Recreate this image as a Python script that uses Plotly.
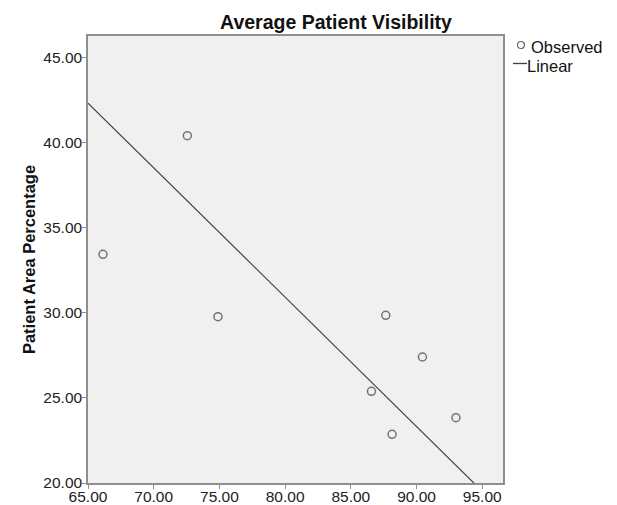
import plotly.graph_objects as go
import numpy as np

# Observed data
avg_visibility = [66.14, 72.56, 74.89, 87.66, 90.45, 86.57, 93.00, 88.14]
area_percentage = [33.45, 40.43, 29.78, 29.86, 27.41, 25.39, 23.84, 22.86]

# Linear fit (as drawn in the reference)
fit_intercept = 91.81
fit_slope = -0.761

x_ticks = [65, 70, 75, 80, 85, 90, 95]
y_ticks = [20, 25, 30, 35, 40, 45]
x_range = [65, 96.58]
y_range = [20, 46.29]

# The page body adds an 8px margin; size the figure so it fills the 617x505 window
OFF = 8
W, H = 617 - OFF, 505 - OFF
L, R, T, B = 88 - OFF, 114, 36 - OFF, 22

line_x = np.array(x_range)
line_y = fit_intercept + fit_slope * line_x

font_family = "Arial, Liberation Sans, sans-serif"

fig = go.Figure()
fig.add_trace(go.Scatter(
    x=line_x, y=line_y, mode="lines", name="Linear",
    line=dict(color="#404040", width=1.2), showlegend=False,
    hoverinfo="skip"))
fig.add_trace(go.Scatter(
    x=avg_visibility, y=area_percentage, mode="markers", name="Observed",
    marker=dict(symbol="circle-open", size=8, color="#747474",
                line=dict(width=1.5, color="#747474")),
    showlegend=False))

axis_common = dict(
    showgrid=False, zeroline=False, showline=True, mirror=True,
    linecolor="#8f8f8f", linewidth=1.5, ticks="outside", ticklen=4,
    tickcolor="#8f8f8f", tickwidth=1, tickformat=".2f", automargin=False,
    tickfont=dict(family=font_family, size=15.5, color="#222222"),
)

fig.update_layout(
    width=W, height=H,
    margin=dict(l=L, r=R, t=T, b=B, pad=0),
    paper_bgcolor="white", plot_bgcolor="#f0f0f0",
    font=dict(family=font_family),
    title=dict(text="<b>Average Patient Visibility</b>",
               font=dict(family=font_family, size=19.5, color="#111111"),
               xref="container", x=(336 - OFF) / W, xanchor="center",
               yref="container", y=1 - (22 - OFF) / H, yanchor="middle"),
    xaxis=dict(range=x_range, tickvals=x_ticks, ticklabelstandoff=-5,
               **axis_common),
    yaxis=dict(range=y_range, tickvals=y_ticks, ticklabelstandoff=-3,
               title=dict(text="<b>Patient Area Percentage</b>",
                          font=dict(family=font_family, size=16.5, color="#111111"),
                          standoff=4),
               **axis_common),
    showlegend=False,
)

# Manual legend (matching the reference's compact legend); positions in page pixels
pw = W - L - R
ph = H - T - B
def px_to_paper_x(px):
    return (px - OFF - L) / pw
def px_to_paper_y(py):
    return (H - B - (py - OFF)) / ph

cx, cy, r = 521, 45, 3.5
fig.add_shape(type="circle", xref="paper", yref="paper",
              x0=px_to_paper_x(cx - r), x1=px_to_paper_x(cx + r),
              y0=px_to_paper_y(cy + r), y1=px_to_paper_y(cy - r),
              line=dict(color="#666666", width=1.2))
fig.add_shape(type="line", xref="paper", yref="paper",
              x0=px_to_paper_x(513), x1=px_to_paper_x(527),
              y0=px_to_paper_y(63.5), y1=px_to_paper_y(63.5),
              line=dict(color="#404040", width=1.3))
fig.add_annotation(text="Observed", xref="paper", yref="paper",
                   x=px_to_paper_x(529), y=px_to_paper_y(46.5),
                   xanchor="left", yanchor="middle", showarrow=False,
                   font=dict(family=font_family, size=16.5, color="#111111"))
fig.add_annotation(text="Linear", xref="paper", yref="paper",
                   x=px_to_paper_x(525), y=px_to_paper_y(65.5),
                   xanchor="left", yanchor="middle", showarrow=False,
                   font=dict(family=font_family, size=16.5, color="#111111"))

fig.write_html("out.html")
